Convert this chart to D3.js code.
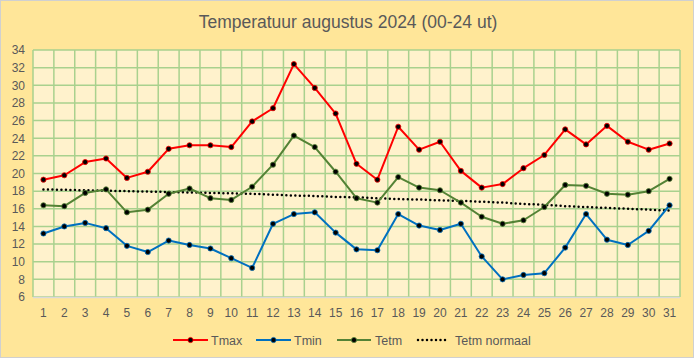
<!DOCTYPE html>
<html><head><meta charset="utf-8">
<script src="https://cdn.jsdelivr.net/npm/d3@7"></script>
<style>html,body{margin:0;padding:0;background:#fff;}svg{display:block;}</style>
</head><body>
<svg id="c" width="695" height="360"></svg>
<script>
const days = d3.range(1, 32).map(String);
const tmax = [19.3,19.8,21.3,21.7,19.5,20.2,22.8,23.2,23.2,23.0,25.9,27.4,32.4,29.7,26.8,21.1,19.3,25.3,22.7,23.6,20.3,18.4,18.8,20.6,22.1,25.0,23.3,25.4,23.6,22.7,23.4];
const tmin = [13.2,14.0,14.4,13.8,11.8,11.1,12.4,11.9,11.5,10.4,9.3,14.3,15.4,15.6,13.3,11.4,11.3,15.4,14.1,13.6,14.3,10.6,8.0,8.5,8.7,11.6,15.4,12.5,11.9,13.5,16.4];
const tetm = [16.4,16.3,17.8,18.2,15.6,15.9,17.7,18.3,17.2,17.0,18.5,21.0,24.3,23.0,20.2,17.2,16.7,19.6,18.4,18.1,16.7,15.1,14.3,14.7,16.2,18.7,18.6,17.7,17.6,18.0,19.4];
const tetmNormaal = [18.2,18.15,18.1,18.05,18.0,17.95,17.9,17.85,17.8,17.75,17.7,17.6,17.5,17.45,17.35,17.3,17.2,17.1,17.05,16.95,16.9,16.8,16.7,16.55,16.45,16.3,16.2,16.1,16.0,15.9,15.8];
const yTicks = [6,8,10,12,14,16,18,20,22,24,26,28,30,32,34];
const title = "Temperatuur augustus 2024 (00-24 ut)";
const seriesNames = ["Tmax","Tmin","Tetm","Tetm normaal"];

const svg = d3.select("#c");
const L = 33, R = 680, T = 50, B = 297;
const font = "'Liberation Sans', Arial, sans-serif";
const txt = "#595959";

svg.append("rect").attr("x",0.5).attr("y",0.5).attr("width",693).attr("height",357)
  .attr("fill","#FFE699").attr("stroke","#D0D0D0");

const x = d3.scaleBand().domain(days).range([L, R]).padding(0);
const y = d3.scaleLinear().domain([6, 34]).range([B, T]);

svg.append("rect").attr("x",L).attr("y",T).attr("width",R-L).attr("height",B-T).attr("fill","#FFF2CC");

// grid
const g = svg.append("g");
g.selectAll("line.h").data(yTicks).join("line")
  .attr("x1",L).attr("x2",R).attr("y1",d=>y(d)).attr("y2",d=>y(d))
  .attr("stroke","#A9D18E").attr("stroke-width",1.5);
const vb = days.map(d=>x(d)).concat([R]);
g.selectAll("line.v").data(vb).join("line")
  .attr("x1",d=>d).attr("x2",d=>d).attr("y1",T).attr("y2",B)
  .attr("stroke","#A9D18E").attr("stroke-width",1.5);
svg.append("line").attr("x1",L).attr("x2",R).attr("y1",B+0.5).attr("y2",B+0.5)
  .attr("stroke","#D9D9D9").attr("stroke-width",1.5);

// axes labels
const yAxis = d3.axisLeft(y).tickValues(yTicks).tickSize(0).tickPadding(8);
const ya = svg.append("g").attr("transform",`translate(${L},0)`).call(yAxis);
ya.select(".domain").remove();
ya.selectAll("text").attr("font-family",font).attr("font-size",12).attr("fill",txt);

const xAxis = d3.axisBottom(x).tickSize(0).tickPadding(11);
const xa = svg.append("g").attr("transform",`translate(0,${B})`).call(xAxis);
xa.select(".domain").remove();
xa.selectAll("text").attr("font-family",font).attr("font-size",12).attr("fill",txt);

const cx = d => x(d) + x.bandwidth()/2;
const line = d3.line().x((v,i)=>cx(days[i])).y(v=>y(v));

// normaal dotted
svg.append("path").datum(tetmNormaal).attr("d",line).attr("fill","none")
  .attr("stroke","#000").attr("stroke-width",2.5).attr("stroke-dasharray","0 4.5").attr("stroke-linecap","round");

const series = [
  {name:"Tmax", vals:tmax, color:"#FF0000"},
  {name:"Tmin", vals:tmin, color:"#0070C0"},
  {name:"Tetm", vals:tetm, color:"#548235"}
];
series.forEach(s=>{
  svg.append("path").datum(s.vals).attr("d",line).attr("fill","none")
    .attr("stroke",s.color).attr("stroke-width",2).attr("stroke-linejoin","round");
  svg.append("g").selectAll("circle").data(s.vals).join("circle")
    .attr("cx",(v,i)=>cx(days[i])).attr("cy",v=>y(v)).attr("r",2.6)
    .attr("fill","#000").attr("stroke",s.color).attr("stroke-width",0.8);
});

// title
svg.append("text").attr("x",348).attr("y",28).attr("text-anchor","middle")
  .attr("font-family","'Liberation Sans Narrow', 'Liberation Sans', Arial, sans-serif").attr("font-size",17.5).attr("fill",txt).text(title);

// legend
const leg = [
  {x1:173,x2:208,tx:211,color:"#FF0000",dot:true,dash:false},
  {x1:256,x2:291,tx:294,color:"#0070C0",dot:true,dash:false},
  {x1:337,x2:371,tx:375,color:"#548235",dot:true,dash:false},
  {x1:418,x2:446,tx:455,color:"#000",dot:false,dash:true}
];
const ly = 340;
leg.forEach((l,i)=>{
  const gg = svg.append("g");
  gg.append("line").attr("x1",l.x1).attr("x2",l.x2).attr("y1",ly).attr("y2",ly)
    .attr("stroke",l.color).attr("stroke-width",l.dash?2.5:2)
    .attr("stroke-dasharray",l.dash?"0 4.5":null).attr("stroke-linecap",l.dash?"round":"butt");
  if(l.dot) gg.append("circle").attr("cx",(l.x1+l.x2)/2).attr("cy",ly).attr("r",2.6).attr("fill","#000").attr("stroke",l.color).attr("stroke-width",0.8);
  gg.append("text").attr("x",l.tx).attr("y",ly+4.5).attr("font-family",font).attr("font-size",12.5)
    .attr("fill",txt).text(seriesNames[i]);
});
</script>
</body></html>
